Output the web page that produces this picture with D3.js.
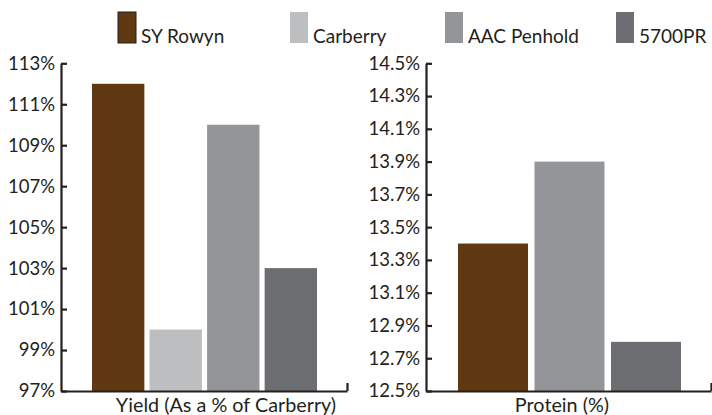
<!DOCTYPE html>
<html>
<head>
<meta charset="utf-8">
<script src="https://cdn.jsdelivr.net/npm/d3@7"></script>
<style>
  body { margin: 0; background: #fff; }
  svg { display: block; font-family: Lato, "Open Sans", sans-serif; }
  .axis path, .axis line { stroke: #231f20; stroke-width: 2.2; }
  .axis text { fill: #231f20; font-size: 18.5px; font-family: Lato, sans-serif; }
  .legend text { fill: #231f20; font-size: 19px; }
  .title { fill: #231f20; font-size: 19.8px; }
</style>
</head>
<body>
<svg width="712" height="415"></svg>
<script>
// varieties and colours
const varieties = ["SY Rowyn", "Carberry", "AAC Penhold", "5700PR"]
const colors = ["#603913", "#bcbec0", "#939598", "#6d6e71"]

// yield, as a % of Carberry
const yieldValues = [112, 100, 110, 103]
const yieldTicks = [97, 99, 101, 103, 105, 107, 109, 111, 113]

// protein (Carberry has no bar here)
const proteinVarieties = ["SY Rowyn", "AAC Penhold", "5700PR"]
const proteinValues = [13.4, 13.9, 12.8]
const proteinTicks = [12.5, 12.7, 12.9, 13.1, 13.3, 13.5, 13.7, 13.9, 14.1, 14.3, 14.5]

const legendX = [118, 290, 445, 616]

const svg = d3.select("svg")
const colorScale = d3.scaleOrdinal().domain(varieties).range(colors)

const plotTop = 63.3
const plotBottom = 391

// ---------- yield chart ----------
const yieldLeft = 61, yieldRight = 347

const xYield = d3.scaleBand()
    .domain(varieties)
    .range([92, 317])
    .paddingInner(0.09)

const yYield = d3.scaleLinear()
    .domain([97, 113])
    .range([plotBottom, plotTop])

svg.append("g")
    .selectAll("rect")
    .data(varieties.map((v, i) => ({ name: v, value: yieldValues[i] })))
    .enter()
    .append("rect")
    .attr("x", d => xYield(d.name))
    .attr("width", xYield.bandwidth())
    .attr("y", d => yYield(d.value))
    .attr("height", d => yYield(97) - yYield(d.value))
    .attr("fill", d => colorScale(d.name))

svg.append("g")
    .attr("class", "axis")
    .attr("transform", `translate(${yieldLeft},0)`)
    .call(d3.axisLeft(yYield)
        .tickValues(yieldTicks)
        .tickFormat(d => d + "%")
        .tickSize(-6)
        .tickSizeOuter(0)
        .tickPadding(6))

const xLineYield = d3.scaleLinear().domain([0, 1]).range([0, yieldRight - yieldLeft])
svg.append("g")
    .attr("class", "axis")
    .attr("transform", `translate(${yieldLeft},${plotBottom})`)
    .call(d3.axisBottom(xLineYield).tickValues([1]).tickSize(-8).tickSizeOuter(0).tickFormat(""))

svg.append("text")
    .attr("class", "title")
    .attr("x", 226)
    .attr("y", 412)
    .attr("text-anchor", "middle")
    .text("Yield (As a % of Carberry)")

// ---------- protein chart ----------
const protLeft = 426, protRight = 711

const xProt = d3.scaleBand()
    .domain(proteinVarieties)
    .range([458, 681])
    .paddingInner(0.085)

const yProt = d3.scaleLinear()
    .domain([12.5, 14.5])
    .range([plotBottom, plotTop])

svg.append("g")
    .selectAll("rect")
    .data(proteinVarieties.map((v, i) => ({ name: v, value: proteinValues[i] })))
    .enter()
    .append("rect")
    .attr("x", d => xProt(d.name))
    .attr("width", xProt.bandwidth())
    .attr("y", d => yProt(d.value))
    .attr("height", d => yProt(12.5) - yProt(d.value))
    .attr("fill", d => colorScale(d.name))

svg.append("g")
    .attr("class", "axis")
    .attr("transform", `translate(${protLeft},0)`)
    .call(d3.axisLeft(yProt)
        .tickValues(proteinTicks)
        .tickFormat(d => d3.format(".1f")(d) + "%")
        .tickSize(-6)
        .tickSizeOuter(0)
        .tickPadding(6))

const xLineProt = d3.scaleLinear().domain([0, 1]).range([0, protRight - protLeft])
svg.append("g")
    .attr("class", "axis")
    .attr("transform", `translate(${protLeft},${plotBottom})`)
    .call(d3.axisBottom(xLineProt).tickValues([1]).tickSize(-8).tickSizeOuter(0).tickFormat(""))

svg.append("text")
    .attr("class", "title")
    .attr("x", 562)
    .attr("y", 412)
    .attr("text-anchor", "middle")
    .text("Protein (%)")

// ---------- legend ----------
const legend = svg.selectAll("g.legend")
    .data(varieties)
    .enter()
    .append("g")
    .attr("class", "legend")
    .attr("transform", (d, i) => `translate(${legendX[i]},12)`)

legend.append("rect")
    .attr("width", 18)
    .attr("height", 31)
    .attr("fill", d => colorScale(d))
    .attr("stroke", (d, i) => i === 0 ? "#231f20" : "none")
    .attr("stroke-width", 1)

legend.append("text")
    .attr("x", 23)
    .attr("y", 31)
    .text(d => d)
</script>
</body>
</html>
